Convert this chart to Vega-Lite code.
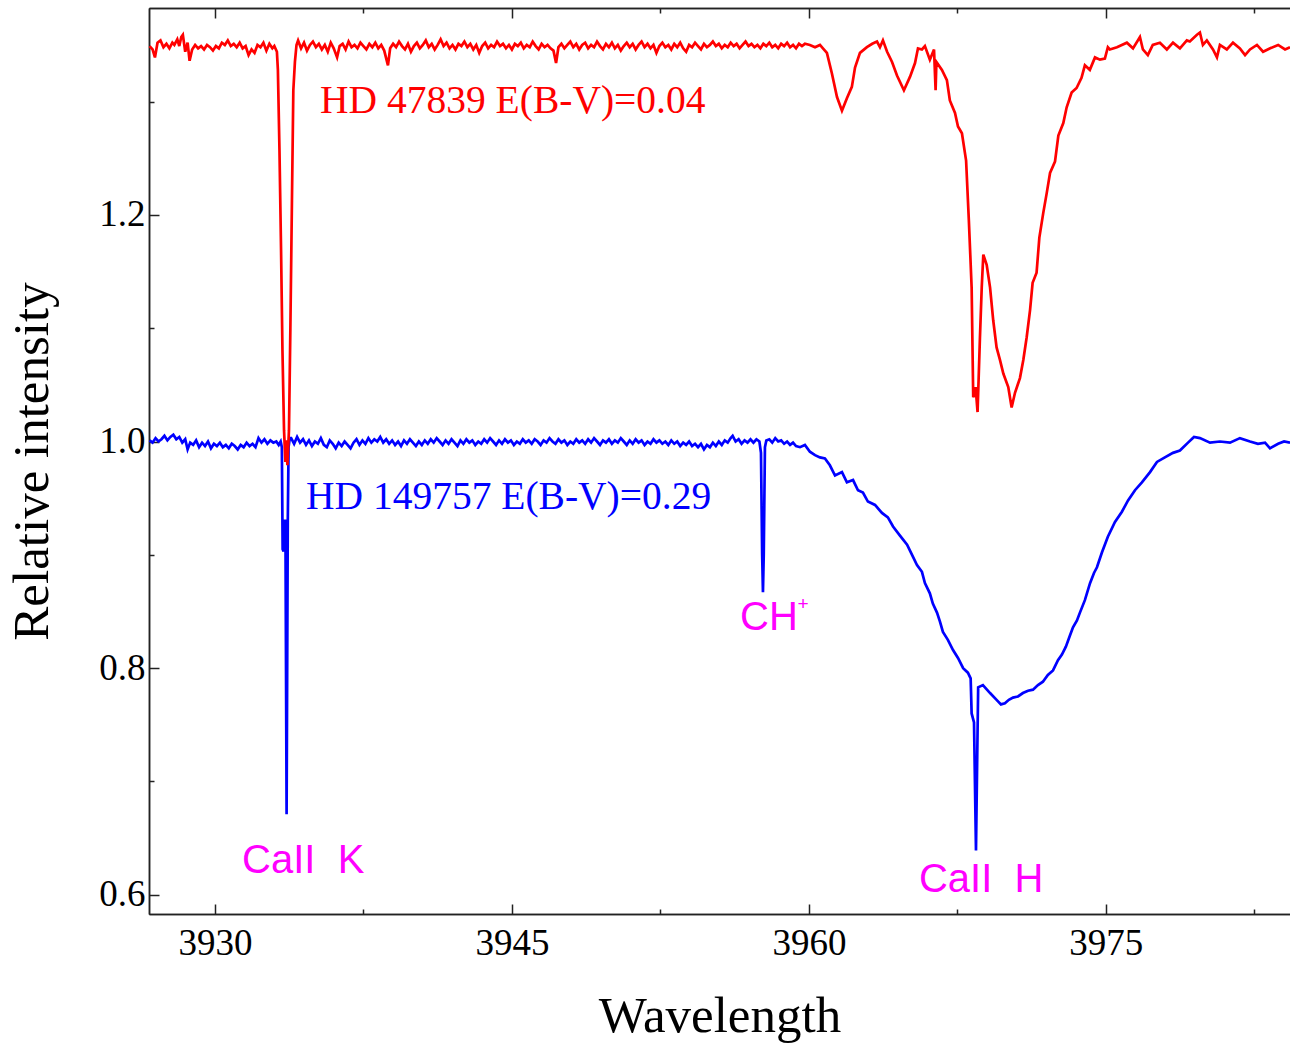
{
"$schema": "https://vega.github.io/schema/vega-lite/v6.json",
"autosize": {"type": "none"},
"width": 1141, "height": 906,
"padding": {"left": 149, "top": 8, "right": 0, "bottom": 133},
"background": "white",
"view": {"stroke": null},
"config": {"axis": {"domainColor": "#222", "domainWidth": 1.5, "tickColor": "#222", "tickWidth": 1.5, "labelFont": "Liberation Serif", "labelFontSize": 37, "labelColor": "#000", "titleFont": "Liberation Serif", "titleFontSize": 51, "titleFontWeight": "normal", "titleColor": "#000", "grid": false}},
"datasets": {
"red": [
{"w":3926.70,"i":1.349},{"w":3926.85,"i":1.346},{"w":3926.97,"i":1.339},{"w":3927.10,"i":1.352},{"w":3927.25,"i":1.354},{"w":3927.40,"i":1.348},{"w":3927.55,"i":1.351},{"w":3927.70,"i":1.347},{"w":3927.85,"i":1.352},{"w":3927.95,"i":1.350},{"w":3928.10,"i":1.355},{"w":3928.20,"i":1.349},{"w":3928.30,"i":1.357},{"w":3928.38,"i":1.359},{"w":3928.50,"i":1.344},{"w":3928.62,"i":1.352},{"w":3928.72,"i":1.336},{"w":3928.85,"i":1.346},{"w":3929.00,"i":1.350},{"w":3929.15,"i":1.347},{"w":3929.30,"i":1.349},{"w":3929.45,"i":1.346},{"w":3929.60,"i":1.350},{"w":3929.75,"i":1.348},{"w":3929.90,"i":1.345},{"w":3930.05,"i":1.349},{"w":3930.20,"i":1.347},{"w":3930.35,"i":1.352},{"w":3930.50,"i":1.350},{"w":3930.65,"i":1.354},{"w":3930.80,"i":1.349},{"w":3930.95,"i":1.351},{"w":3931.10,"i":1.348},{"w":3931.25,"i":1.352},{"w":3931.40,"i":1.347},{"w":3931.55,"i":1.349},{"w":3931.70,"i":1.341},{"w":3931.85,"i":1.346},{"w":3932.00,"i":1.343},{"w":3932.15,"i":1.350},{"w":3932.30,"i":1.348},{"w":3932.45,"i":1.352},{"w":3932.60,"i":1.345},{"w":3932.75,"i":1.351},{"w":3932.90,"i":1.347},{"w":3933.00,"i":1.349},
{"w":3933.08,"i":1.346},{"w":3933.13,"i":1.344},{"w":3933.18,"i":1.328},{"w":3933.26,"i":1.257},{"w":3933.34,"i":1.169},{"w":3933.41,"i":1.081},{"w":3933.49,"i":1.010},{"w":3933.56,"i":0.982},{"w":3933.61,"i":1.001},{"w":3933.66,"i":0.979},{"w":3933.74,"i":1.010},{"w":3933.81,"i":1.099},{"w":3933.89,"i":1.213},{"w":3933.96,"i":1.310},{"w":3934.04,"i":1.335},{"w":3934.12,"i":1.350},
{"w":3934.20,"i":1.354},{"w":3934.35,"i":1.347},{"w":3934.50,"i":1.352},{"w":3934.65,"i":1.345},{"w":3934.80,"i":1.350},{"w":3934.95,"i":1.353},{"w":3935.10,"i":1.348},{"w":3935.25,"i":1.351},{"w":3935.40,"i":1.346},{"w":3935.55,"i":1.350},{"w":3935.70,"i":1.344},{"w":3935.85,"i":1.352},{"w":3936.00,"i":1.347},{"w":3936.17,"i":1.339},{"w":3936.30,"i":1.349},{"w":3936.45,"i":1.351},{"w":3936.60,"i":1.346},{"w":3936.75,"i":1.353},{"w":3936.90,"i":1.348},{"w":3937.05,"i":1.350},{"w":3937.20,"i":1.347},{"w":3937.35,"i":1.352},{"w":3937.50,"i":1.349},{"w":3937.65,"i":1.346},{"w":3937.80,"i":1.351},{"w":3937.95,"i":1.348},{"w":3938.10,"i":1.352},{"w":3938.25,"i":1.347},{"w":3938.40,"i":1.350},{"w":3938.55,"i":1.345},{"w":3938.74,"i":1.332},{"w":3938.85,"i":1.347},{"w":3939.00,"i":1.351},{"w":3939.15,"i":1.348},{"w":3939.30,"i":1.353},{"w":3939.45,"i":1.349},{"w":3939.60,"i":1.346},{"w":3939.75,"i":1.351},{"w":3939.90,"i":1.344},{"w":3940.05,"i":1.349},{"w":3940.20,"i":1.352},{"w":3940.35,"i":1.347},{"w":3940.50,"i":1.350},{"w":3940.65,"i":1.354},{"w":3940.80,"i":1.348},{"w":3940.95,"i":1.351},{"w":3941.10,"i":1.346},{"w":3941.25,"i":1.350},{"w":3941.40,"i":1.355},{"w":3941.55,"i":1.349},{"w":3941.70,"i":1.352},{"w":3941.85,"i":1.347},{"w":3942.00,"i":1.350},{"w":3942.15,"i":1.346},{"w":3942.30,"i":1.351},{"w":3942.45,"i":1.349},{"w":3942.60,"i":1.353},{"w":3942.75,"i":1.348},{"w":3942.90,"i":1.351},{"w":3943.05,"i":1.346},{"w":3943.20,"i":1.350},{"w":3943.35,"i":1.343},{"w":3943.50,"i":1.349},{"w":3943.65,"i":1.352},{"w":3943.80,"i":1.347},{"w":3943.95,"i":1.350},{"w":3944.10,"i":1.348},{"w":3944.25,"i":1.353},{"w":3944.40,"i":1.349},{"w":3944.55,"i":1.351},{"w":3944.70,"i":1.347},{"w":3944.85,"i":1.350},{"w":3945.00,"i":1.346},{"w":3945.15,"i":1.351},{"w":3945.30,"i":1.349},{"w":3945.45,"i":1.352},{"w":3945.60,"i":1.347},{"w":3945.75,"i":1.350},{"w":3945.90,"i":1.348},{"w":3946.05,"i":1.353},{"w":3946.20,"i":1.349},{"w":3946.35,"i":1.346},{"w":3946.50,"i":1.351},{"w":3946.65,"i":1.348},{"w":3946.80,"i":1.350},{"w":3946.95,"i":1.347},{"w":3947.10,"i":1.345},{"w":3947.23,"i":1.334},
{"w":3947.35,"i":1.348},{"w":3947.50,"i":1.351},{"w":3947.65,"i":1.347},{"w":3947.80,"i":1.350},{"w":3947.95,"i":1.353},{"w":3948.10,"i":1.348},{"w":3948.25,"i":1.351},{"w":3948.40,"i":1.346},{"w":3948.55,"i":1.350},{"w":3948.70,"i":1.352},{"w":3948.85,"i":1.347},{"w":3949.00,"i":1.350},{"w":3949.15,"i":1.348},{"w":3949.30,"i":1.353},{"w":3949.45,"i":1.349},{"w":3949.60,"i":1.346},{"w":3949.75,"i":1.351},{"w":3949.90,"i":1.348},{"w":3950.05,"i":1.352},{"w":3950.20,"i":1.347},{"w":3950.35,"i":1.350},{"w":3950.50,"i":1.345},{"w":3950.65,"i":1.349},{"w":3950.80,"i":1.352},{"w":3950.95,"i":1.348},{"w":3951.10,"i":1.351},{"w":3951.25,"i":1.346},{"w":3951.40,"i":1.350},{"w":3951.55,"i":1.353},{"w":3951.70,"i":1.348},{"w":3951.85,"i":1.351},{"w":3952.00,"i":1.347},{"w":3952.15,"i":1.350},{"w":3952.30,"i":1.343},{"w":3952.45,"i":1.349},{"w":3952.60,"i":1.352},{"w":3952.75,"i":1.348},{"w":3952.90,"i":1.350},{"w":3953.05,"i":1.346},{"w":3953.20,"i":1.351},{"w":3953.35,"i":1.348},{"w":3953.50,"i":1.352},{"w":3953.65,"i":1.347},{"w":3953.80,"i":1.344},{"w":3953.95,"i":1.350},{"w":3954.10,"i":1.348},{"w":3954.25,"i":1.352},{"w":3954.40,"i":1.349},{"w":3954.55,"i":1.346},{"w":3954.70,"i":1.351},{"w":3954.85,"i":1.348},{"w":3955.00,"i":1.350},{"w":3955.15,"i":1.353},{"w":3955.30,"i":1.349},{"w":3955.45,"i":1.351},{"w":3955.60,"i":1.347},{"w":3955.75,"i":1.350},{"w":3955.90,"i":1.348},{"w":3956.05,"i":1.352},{"w":3956.20,"i":1.349},{"w":3956.35,"i":1.351},{"w":3956.50,"i":1.347},{"w":3956.65,"i":1.350},{"w":3956.80,"i":1.353},{"w":3956.95,"i":1.349},{"w":3957.10,"i":1.351},{"w":3957.25,"i":1.348},{"w":3957.40,"i":1.350},{"w":3957.55,"i":1.347},{"w":3957.70,"i":1.351},{"w":3957.85,"i":1.349},{"w":3958.00,"i":1.352},{"w":3958.15,"i":1.348},{"w":3958.30,"i":1.350},{"w":3958.45,"i":1.347},{"w":3958.60,"i":1.351},{"w":3958.75,"i":1.349},{"w":3958.90,"i":1.352},{"w":3959.05,"i":1.348},{"w":3959.20,"i":1.350},{"w":3959.35,"i":1.347},{"w":3959.50,"i":1.351},{"w":3959.65,"i":1.349},{"w":3959.80,"i":1.351},
{"w":3960.05,"i":1.350},{"w":3960.31,"i":1.348},{"w":3960.56,"i":1.350},{"w":3960.71,"i":1.347},{"w":3960.91,"i":1.343},{"w":3961.16,"i":1.325},{"w":3961.42,"i":1.304},{"w":3961.67,"i":1.292},{"w":3961.92,"i":1.303},{"w":3962.17,"i":1.313},{"w":3962.33,"i":1.330},{"w":3962.58,"i":1.343},{"w":3962.93,"i":1.348},{"w":3963.20,"i":1.351},{"w":3963.44,"i":1.353},{"w":3963.59,"i":1.348},{"w":3963.74,"i":1.354},{"w":3963.95,"i":1.344},{"w":3964.20,"i":1.335},{"w":3964.45,"i":1.323},{"w":3964.80,"i":1.310},{"w":3965.11,"i":1.322},{"w":3965.36,"i":1.334},{"w":3965.51,"i":1.347},{"w":3965.71,"i":1.346},{"w":3965.86,"i":1.349},{"w":3966.11,"i":1.337},{"w":3966.32,"i":1.346},{"w":3966.40,"i":1.310},{"w":3966.44,"i":1.335},{"w":3966.72,"i":1.328},{"w":3966.97,"i":1.319},{"w":3967.12,"i":1.301},{"w":3967.38,"i":1.290},{"w":3967.53,"i":1.278},{"w":3967.73,"i":1.272},{"w":3967.94,"i":1.248},{"w":3968.08,"i":1.195},{"w":3968.22,"i":1.136},{"w":3968.30,"i":1.039},{"w":3968.42,"i":1.048},{"w":3968.52,"i":1.026},{"w":3968.64,"i":1.092},{"w":3968.73,"i":1.136},{"w":3968.81,"i":1.165},{"w":3968.98,"i":1.156},{"w":3969.15,"i":1.136},{"w":3969.31,"i":1.107},{"w":3969.48,"i":1.083},{"w":3969.65,"i":1.072},{"w":3969.82,"i":1.060},{"w":3970.07,"i":1.048},{"w":3970.24,"i":1.030},{"w":3970.41,"i":1.043},{"w":3970.66,"i":1.056},{"w":3970.83,"i":1.072},{"w":3971.00,"i":1.092},{"w":3971.17,"i":1.116},{"w":3971.30,"i":1.140},{"w":3971.50,"i":1.149},{"w":3971.64,"i":1.180},{"w":3971.84,"i":1.202},{"w":3972.01,"i":1.219},{"w":3972.18,"i":1.237},{"w":3972.43,"i":1.247},{"w":3972.60,"i":1.270},{"w":3972.85,"i":1.281},{"w":3973.02,"i":1.295},{"w":3973.27,"i":1.308},{"w":3973.52,"i":1.312},{"w":3973.77,"i":1.321},{"w":3973.94,"i":1.332},{"w":3974.19,"i":1.328},{"w":3974.45,"i":1.339},{"w":3974.70,"i":1.337},{"w":3974.95,"i":1.338},{"w":3975.10,"i":1.348},
{"w":3975.20,"i":1.346},{"w":3975.56,"i":1.348},{"w":3976.06,"i":1.352},{"w":3976.37,"i":1.347},{"w":3976.72,"i":1.357},{"w":3976.87,"i":1.346},{"w":3977.12,"i":1.341},{"w":3977.37,"i":1.350},{"w":3977.73,"i":1.352},{"w":3978.08,"i":1.346},{"w":3978.39,"i":1.352},{"w":3978.74,"i":1.347},{"w":3979.09,"i":1.354},{"w":3979.24,"i":1.353},{"w":3979.60,"i":1.359},{"w":3979.75,"i":1.361},{"w":3979.90,"i":1.350},{"w":3980.10,"i":1.354},{"w":3980.41,"i":1.346},{"w":3980.61,"i":1.339},{"w":3980.76,"i":1.350},{"w":3981.11,"i":1.346},{"w":3981.42,"i":1.352},{"w":3981.77,"i":1.347},{"w":3982.03,"i":1.341},{"w":3982.28,"i":1.346},{"w":3982.63,"i":1.350},{"w":3982.94,"i":1.344},{"w":3983.30,"i":1.347},{"w":3983.70,"i":1.350},{"w":3984.05,"i":1.346},{"w":3984.30,"i":1.348}
],
"blue": [
{"w":3926.70,"i":1.001},{"w":3926.85,"i":0.999},{"w":3927.00,"i":1.003},{"w":3927.15,"i":1.000},{"w":3927.30,"i":1.002},{"w":3927.45,"i":1.005},{"w":3927.60,"i":1.001},{"w":3927.75,"i":1.004},{"w":3927.90,"i":1.006},{"w":3928.05,"i":1.002},{"w":3928.20,"i":1.004},{"w":3928.35,"i":0.999},{"w":3928.50,"i":1.002},{"w":3928.62,"i":0.993},{"w":3928.75,"i":0.999},{"w":3928.90,"i":0.997},{"w":3929.05,"i":1.001},{"w":3929.20,"i":0.995},{"w":3929.35,"i":0.999},{"w":3929.50,"i":0.996},{"w":3929.65,"i":1.000},{"w":3929.80,"i":0.994},{"w":3929.95,"i":0.998},{"w":3930.10,"i":0.996},{"w":3930.25,"i":0.999},{"w":3930.40,"i":0.995},{"w":3930.55,"i":0.997},{"w":3930.70,"i":0.994},{"w":3930.85,"i":0.998},{"w":3931.00,"i":0.996},{"w":3931.15,"i":0.993},{"w":3931.30,"i":0.997},{"w":3931.45,"i":0.995},{"w":3931.60,"i":0.999},{"w":3931.75,"i":0.996},{"w":3931.90,"i":0.998},{"w":3932.05,"i":0.995},{"w":3932.20,"i":1.003},{"w":3932.35,"i":0.999},{"w":3932.50,"i":1.002},{"w":3932.65,"i":0.998},{"w":3932.80,"i":1.001},{"w":3932.95,"i":0.999},{"w":3933.10,"i":1.000},{"w":3933.22,"i":0.997},{"w":3933.32,"i":1.000},{"w":3933.38,"i":0.995},
{"w":3933.42,"i":0.905},{"w":3933.47,"i":0.903},{"w":3933.51,"i":0.930},{"w":3933.56,"i":0.930},{"w":3933.62,"i":0.671},{"w":3933.68,"i":0.930},{"w":3933.72,"i":0.995},{"w":3933.78,"i":1.003},
{"w":3933.85,"i":1.003},{"w":3934.00,"i":0.998},{"w":3934.15,"i":1.004},{"w":3934.30,"i":0.999},{"w":3934.45,"i":1.002},{"w":3934.60,"i":0.997},{"w":3934.75,"i":1.001},{"w":3934.90,"i":0.996},{"w":3935.05,"i":1.000},{"w":3935.20,"i":0.998},{"w":3935.35,"i":1.003},{"w":3935.50,"i":0.997},{"w":3935.65,"i":0.995},{"w":3935.80,"i":1.001},{"w":3935.95,"i":0.998},{"w":3936.10,"i":0.994},{"w":3936.25,"i":0.999},{"w":3936.40,"i":0.996},{"w":3936.55,"i":1.000},{"w":3936.70,"i":0.997},{"w":3936.85,"i":0.994},{"w":3937.00,"i":0.999},{"w":3937.15,"i":1.002},{"w":3937.30,"i":0.997},{"w":3937.45,"i":1.001},{"w":3937.60,"i":0.998},{"w":3937.75,"i":1.003},{"w":3937.90,"i":0.999},{"w":3938.05,"i":1.002},{"w":3938.20,"i":1.000},{"w":3938.35,"i":1.004},{"w":3938.50,"i":0.999},{"w":3938.65,"i":1.002},{"w":3938.80,"i":0.998},{"w":3938.95,"i":1.001},{"w":3939.10,"i":0.997},{"w":3939.25,"i":1.000},{"w":3939.40,"i":0.996},{"w":3939.55,"i":1.001},{"w":3939.70,"i":0.998},{"w":3939.85,"i":1.002},{"w":3940.00,"i":0.999},{"w":3940.15,"i":0.996},{"w":3940.30,"i":1.000},{"w":3940.45,"i":0.997},{"w":3940.60,"i":1.001},{"w":3940.75,"i":0.998},{"w":3940.90,"i":1.002},{"w":3941.05,"i":0.999},{"w":3941.20,"i":1.003},{"w":3941.35,"i":1.000},{"w":3941.50,"i":0.997},{"w":3941.65,"i":1.001},{"w":3941.80,"i":0.998},{"w":3941.95,"i":1.002},{"w":3942.10,"i":0.999},{"w":3942.25,"i":0.996},{"w":3942.40,"i":1.001},{"w":3942.55,"i":0.998},{"w":3942.70,"i":1.002},{"w":3942.85,"i":0.999},{"w":3943.00,"i":1.001},{"w":3943.15,"i":0.997},{"w":3943.30,"i":1.000},{"w":3943.45,"i":0.998},{"w":3943.60,"i":1.002},{"w":3943.75,"i":0.999},{"w":3943.90,"i":1.003},{"w":3944.05,"i":1.000},{"w":3944.20,"i":0.997},{"w":3944.35,"i":1.001},{"w":3944.50,"i":0.998},{"w":3944.65,"i":1.002},{"w":3944.80,"i":0.999},{"w":3944.95,"i":1.001},{"w":3945.10,"i":0.997},{"w":3945.25,"i":1.000},{"w":3945.40,"i":0.998},{"w":3945.55,"i":1.002},{"w":3945.70,"i":0.999},{"w":3945.85,"i":1.001},{"w":3946.00,"i":0.998},{"w":3946.15,"i":1.002},{"w":3946.30,"i":1.000},{"w":3946.45,"i":0.997},{"w":3946.60,"i":1.001},{"w":3946.75,"i":0.999},{"w":3946.90,"i":1.003},{"w":3947.05,"i":1.000},{"w":3947.20,"i":0.998},{"w":3947.35,"i":1.002},{"w":3947.50,"i":0.999},{"w":3947.65,"i":1.001},{"w":3947.80,"i":0.997},{"w":3947.95,"i":1.000},{"w":3948.10,"i":0.998},{"w":3948.25,"i":1.002},{"w":3948.40,"i":0.999},{"w":3948.55,"i":1.001},{"w":3948.70,"i":0.998},{"w":3948.85,"i":1.002},{"w":3949.00,"i":0.999},{"w":3949.15,"i":1.003},{"w":3949.30,"i":1.000},{"w":3949.45,"i":0.997},{"w":3949.60,"i":1.001},{"w":3949.75,"i":0.999},{"w":3949.90,"i":1.002},{"w":3950.05,"i":0.998},{"w":3950.20,"i":1.001},{"w":3950.35,"i":0.999},{"w":3950.50,"i":1.003},{"w":3950.65,"i":1.000},{"w":3950.80,"i":0.997},{"w":3950.95,"i":1.001},{"w":3951.10,"i":0.998},{"w":3951.25,"i":1.002},{"w":3951.40,"i":0.999},{"w":3951.55,"i":1.001},{"w":3951.70,"i":0.997},{"w":3951.85,"i":1.000},{"w":3952.00,"i":0.998},{"w":3952.15,"i":1.002},{"w":3952.30,"i":0.999},{"w":3952.45,"i":1.001},{"w":3952.60,"i":0.998},{"w":3952.75,"i":1.000},{"w":3952.90,"i":0.997},{"w":3953.05,"i":1.001},{"w":3953.20,"i":0.998},{"w":3953.35,"i":1.000},{"w":3953.50,"i":0.996},{"w":3953.65,"i":0.999},{"w":3953.80,"i":0.997},{"w":3953.95,"i":1.000},{"w":3954.10,"i":0.996},{"w":3954.25,"i":0.998},{"w":3954.40,"i":0.995},{"w":3954.55,"i":0.998},{"w":3954.70,"i":0.993},{"w":3954.85,"i":0.997},{"w":3955.00,"i":0.995},{"w":3955.15,"i":0.999},{"w":3955.30,"i":0.996},{"w":3955.45,"i":1.000},{"w":3955.60,"i":0.997},{"w":3955.75,"i":1.001},{"w":3955.90,"i":0.999},{"w":3956.05,"i":1.003},{"w":3956.15,"i":1.005},{"w":3956.30,"i":1.000},{"w":3956.45,"i":1.002},{"w":3956.60,"i":0.998},{"w":3956.75,"i":1.001},{"w":3956.90,"i":0.999},{"w":3957.05,"i":1.002},{"w":3957.20,"i":0.999},{"w":3957.35,"i":1.002},{"w":3957.50,"i":1.000},
{"w":3957.58,"i":0.990},{"w":3957.64,"i":0.900},{"w":3957.68,"i":0.867},{"w":3957.72,"i":0.900},{"w":3957.78,"i":0.995},
{"w":3957.85,"i":1.001},{"w":3958.00,"i":1.002},{"w":3958.15,"i":0.999},{"w":3958.30,"i":1.003},{"w":3958.45,"i":1.000},{"w":3958.60,"i":1.001},{"w":3958.75,"i":0.998},{"w":3958.90,"i":1.000},{"w":3959.05,"i":0.997},{"w":3959.20,"i":0.999},{"w":3959.35,"i":0.996},
{"w":3959.55,"i":0.995},{"w":3959.80,"i":0.997},{"w":3960.05,"i":0.991},{"w":3960.31,"i":0.988},{"w":3960.56,"i":0.986},{"w":3960.81,"i":0.985},{"w":3961.06,"i":0.979},{"w":3961.32,"i":0.970},{"w":3961.67,"i":0.973},{"w":3961.92,"i":0.964},{"w":3962.23,"i":0.966},{"w":3962.48,"i":0.957},{"w":3962.73,"i":0.955},{"w":3962.98,"i":0.947},{"w":3963.34,"i":0.944},{"w":3963.69,"i":0.937},{"w":3963.99,"i":0.933},{"w":3964.25,"i":0.925},{"w":3964.60,"i":0.917},{"w":3964.96,"i":0.909},{"w":3965.21,"i":0.900},{"w":3965.46,"i":0.891},{"w":3965.71,"i":0.885},{"w":3965.86,"i":0.875},{"w":3966.11,"i":0.866},{"w":3966.26,"i":0.857},{"w":3966.47,"i":0.849},{"w":3966.62,"i":0.841},{"w":3966.77,"i":0.832},{"w":3967.02,"i":0.825},{"w":3967.28,"i":0.816},{"w":3967.53,"i":0.809},{"w":3967.79,"i":0.800},{"w":3968.03,"i":0.796},{"w":3968.17,"i":0.791},
{"w":3968.22,"i":0.760},{"w":3968.34,"i":0.752},{"w":3968.44,"i":0.639},{"w":3968.50,"i":0.719},{"w":3968.55,"i":0.783},{"w":3968.79,"i":0.785},{"w":3969.15,"i":0.778},{"w":3969.48,"i":0.772},{"w":3969.70,"i":0.768},{"w":3969.90,"i":0.769},{"w":3970.10,"i":0.772},{"w":3970.31,"i":0.774},{"w":3970.56,"i":0.775},{"w":3970.81,"i":0.778},{"w":3971.07,"i":0.780},{"w":3971.32,"i":0.781},{"w":3971.57,"i":0.785},{"w":3971.82,"i":0.788},{"w":3972.07,"i":0.794},{"w":3972.33,"i":0.798},{"w":3972.58,"i":0.807},{"w":3972.78,"i":0.812},{"w":3972.98,"i":0.819},{"w":3973.19,"i":0.829},{"w":3973.34,"i":0.836},{"w":3973.54,"i":0.842},{"w":3973.69,"i":0.849},{"w":3973.94,"i":0.860},{"w":3974.20,"i":0.875},{"w":3974.40,"i":0.884},{"w":3974.55,"i":0.889},{"w":3974.80,"i":0.902},{"w":3975.10,"i":0.916},{"w":3975.46,"i":0.929},{"w":3975.81,"i":0.938},{"w":3976.12,"i":0.948},{"w":3976.47,"i":0.957},{"w":3976.82,"i":0.964},{"w":3977.23,"i":0.973},{"w":3977.58,"i":0.982},{"w":3977.98,"i":0.986},{"w":3978.39,"i":0.990},{"w":3978.74,"i":0.992},{"w":3979.15,"i":0.999},{"w":3979.45,"i":1.004},{"w":3979.75,"i":1.003},{"w":3980.26,"i":0.999},{"w":3980.76,"i":1.000},{"w":3981.27,"i":0.999},{"w":3981.77,"i":1.003},{"w":3982.28,"i":1.000},{"w":3982.68,"i":0.998},{"w":3983.04,"i":0.999},{"w":3983.29,"i":0.994},{"w":3983.70,"i":0.998},{"w":3984.00,"i":1.000},{"w":3984.30,"i":0.999}
]
},
"layer": [
{
"data": {"name": "blue"},
"mark": {"type": "line", "color": "#0000ff", "strokeWidth": 2.7},
"encoding": {
"x": {"field": "w", "type": "quantitative", "scale": {"domain": [3926.67, 3984.3], "nice": false, "zero": false},
"axis": {"orient": "bottom", "values": [3930, 3945, 3960, 3975], "format": "d", "title": "Wavelength", "tickSize": -10, "labelPadding": 21, "titlePadding": 30}},
"y": {"field": "i", "type": "quantitative", "scale": {"domain": [0.583, 1.3826], "nice": false, "zero": false},
"axis": {"orient": "left", "values": [0.6, 0.8, 1.0, 1.2], "format": ".1f", "title": "Relative intensity", "tickSize": -10, "labelPadding": 14, "titlePadding": 40}}
}
},
{
"data": {"name": "red"},
"mark": {"type": "line", "color": "#ff0000", "strokeWidth": 2.7},
"encoding": {
"x": {"field": "w", "type": "quantitative", "scale": {"domain": [3926.67, 3984.3], "nice": false, "zero": false},
"axis": {"orient": "top", "values": [3930, 3945, 3960, 3975], "labels": false, "title": null, "tickSize": -10}},
"y": {"field": "i", "type": "quantitative", "scale": {"domain": [0.583, 1.3826], "nice": false, "zero": false},
"axis": {"orient": "left", "values": [0.7, 0.9, 1.1, 1.3], "labels": false, "title": null, "tickSize": -5}}
}
},
{
"data": {"values": [{"label": "HD 47839 E(B-V)=0.04", "w": 3935.31, "i": 1.2899}]},
"mark": {"type": "text", "font": "Liberation Serif", "fontSize": 39.5, "align": "left", "baseline": "alphabetic", "color": "#ff0000"},
"encoding": {
"x": {"field": "w", "type": "quantitative", "scale": {"domain": [3926.67, 3984.3], "nice": false, "zero": false},
"axis": {"orient": "bottom", "values": [3937.5, 3952.5, 3967.5, 3982.5], "labels": false, "title": null, "tickSize": -5}},
"y": {"field": "i", "type": "quantitative", "scale": {"domain": [0.583, 1.3826], "nice": false, "zero": false}, "axis": null},
"text": {"field": "label"}
}
},
{
"data": {"values": [{"label": "HD 149757 E(B-V)=0.29", "w": 3934.60, "i": 0.9404}]},
"mark": {"type": "text", "font": "Liberation Serif", "fontSize": 39.5, "align": "left", "baseline": "alphabetic", "color": "#0000ff"},
"encoding": {
"x": {"field": "w", "type": "quantitative", "scale": {"domain": [3926.67, 3984.3], "nice": false, "zero": false},
"axis": {"orient": "top", "values": [3937.5, 3952.5, 3967.5, 3982.5], "labels": false, "title": null, "tickSize": -5}},
"y": {"field": "i", "type": "quantitative", "scale": {"domain": [0.583, 1.3826], "nice": false, "zero": false}, "axis": null},
"text": {"field": "label"}
}
},
{
"data": {"values": [{"label": "CaII\u00a0\u00a0K", "w": 3931.37, "i": 0.6192}, {"label": "CH", "w": 3956.52, "i": 0.8336}, {"label": "CaII\u00a0\u00a0H", "w": 3965.56, "i": 0.6024}]},
"mark": {"type": "text", "font": "Liberation Sans", "fontSize": 40, "align": "left", "baseline": "alphabetic", "color": "#ff00ff"},
"encoding": {
"x": {"field": "w", "type": "quantitative", "scale": {"domain": [3926.67, 3984.3], "nice": false, "zero": false}, "axis": null},
"y": {"field": "i", "type": "quantitative", "scale": {"domain": [0.583, 1.3826], "nice": false, "zero": false}, "axis": null},
"text": {"field": "label"}
}
},
{
"data": {"values": [{"label": "+", "w": 3959.42, "i": 0.851}]},
"mark": {"type": "text", "font": "Liberation Sans", "fontSize": 19, "align": "left", "baseline": "alphabetic", "color": "#ff00ff"},
"encoding": {
"x": {"field": "w", "type": "quantitative", "scale": {"domain": [3926.67, 3984.3], "nice": false, "zero": false}, "axis": null},
"y": {"field": "i", "type": "quantitative", "scale": {"domain": [0.583, 1.3826], "nice": false, "zero": false}, "axis": null},
"text": {"field": "label"}
}
}
],
"resolve": {"axis": {"x": "independent", "y": "independent"}}
}
